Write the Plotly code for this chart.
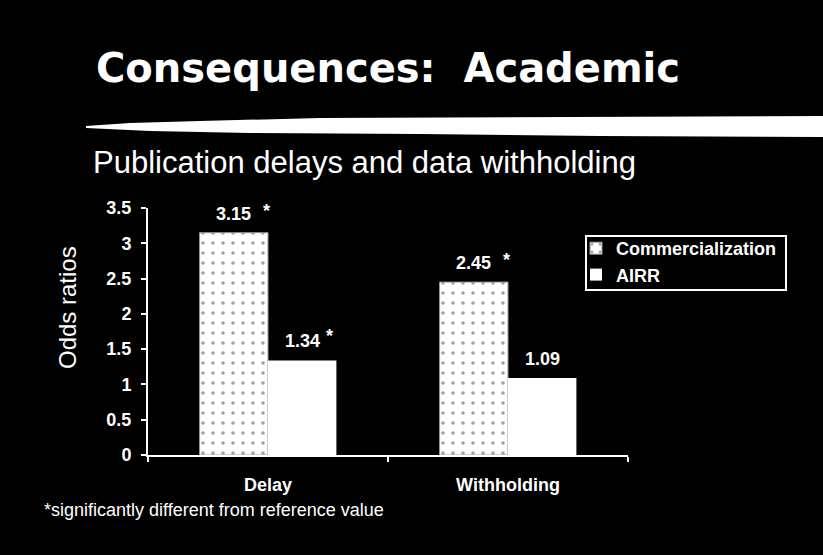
import plotly.graph_objects as go

categories = ["Delay", "Withholding"]
commercialization = [3.15, 2.45]
airr = [1.34, 1.09]
comm_sig = [True, True]
airr_sig = [True, False]
y_ticks = [0, 0.5, 1, 1.5, 2, 2.5, 3, 3.5]
y_tick_labels = ["0", "0.5", "1", "1.5", "2", "2.5", "3", "3.5"]

W, H = 823, 555
L, R, T, B = 148, 628, 208, 455
FONT = "Arial, Liberation Sans, sans-serif"


def px(x):
    return (x - L) / (R - L)


def py(y):
    return (B - y) / (B - T)


fig = go.Figure()
fig.add_trace(go.Bar(
    name="Commercialization", x=categories, y=commercialization,
    marker=dict(color="white",
                line=dict(color="#9a9a9a", width=1),
                pattern=dict(shape=".", fgcolor="#444444", bgcolor="white",
                             size=10, solidity=0.1)),
))
fig.add_trace(go.Bar(
    name="AIRR", x=categories, y=airr,
    marker=dict(color="white", line=dict(color="white", width=0)),
))

bar_w = 0.285
annos = []
for i, (v, s) in enumerate(zip(commercialization, comm_sig)):
    xc = i - bar_w / 2
    annos.append(dict(x=xc, y=v, xref="x", yref="y", text=f"{v:.2f}", showarrow=False,
                      yshift=19, font=dict(family=FONT, size=18, color="white", weight="bold")))
    if s:
        annos.append(dict(x=xc, y=v, xref="x", yref="y", text="*", showarrow=False,
                          xshift=33, yshift=22, font=dict(family=FONT, size=18, color="white", weight="bold")))
for i, (v, s) in enumerate(zip(airr, airr_sig)):
    xc = i + bar_w / 2
    annos.append(dict(x=xc, y=v, xref="x", yref="y", text=f"{v:.2f}", showarrow=False,
                      yshift=19, font=dict(family=FONT, size=18, color="white", weight="bold")))
    if s:
        annos.append(dict(x=xc, y=v, xref="x", yref="y", text="*", showarrow=False,
                          xshift=27, yshift=24, font=dict(family=FONT, size=18, color="white", weight="bold")))

# title, subtitle, axis title, footnote
annos.append(dict(x=px(94), y=py(68), xref="paper", yref="paper", xanchor="left", yanchor="middle",
                  text="Consequences:&nbsp;&nbsp;Academic", showarrow=False,
                  font=dict(family="DejaVu Sans, sans-serif", size=40, color="white", weight="bold")))
annos.append(dict(x=px(91), y=py(162), xref="paper", yref="paper", xanchor="left", yanchor="middle",
                  text="Publication delays and data withholding", showarrow=False,
                  font=dict(family=FONT, size=31, color="white")))
annos.append(dict(x=px(67), y=py(308), xref="paper", yref="paper", xanchor="center", yanchor="middle",
                  text="Odds ratios", textangle=-90, showarrow=False,
                  font=dict(family=FONT, size=24, color="white")))
annos.append(dict(x=px(42), y=py(510), xref="paper", yref="paper", xanchor="left", yanchor="middle",
                  text="*significantly different from reference value", showarrow=False,
                  font=dict(family=FONT, size=18, color="white")))

# brush stroke under title
pts = [(86, 126), (130, 123), (200, 121), (320, 118), (823, 116), (823, 137), (600, 136),
       (420, 134), (250, 133), (150, 131), (86, 128)]
path = "M " + " L ".join(f"{px(x):.5f},{py(y):.5f}" for x, y in pts) + " Z"

# legend frame
lx0, lx1, ly0, ly1 = 586, 786, 236, 290

fig.update_layout(
    width=W, height=H,
    margin=dict(l=L, r=W - R, t=T, b=H - B, pad=0),
    paper_bgcolor="black", plot_bgcolor="black",
    barmode="group", bargap=0.43, bargroupgap=0,
    showlegend=True,
    legend=dict(x=px(576), y=py(230), xanchor="left", yanchor="top",
                bgcolor="rgba(0,0,0,0)", borderwidth=0,
                font=dict(family=FONT, size=18, color="white", weight="bold"),
                itemwidth=30, tracegroupgap=0),
    annotations=annos,
    shapes=[
        dict(type="path", path=path, xref="paper", yref="paper",
             fillcolor="white", line=dict(width=0), layer="above"),
        dict(type="rect", xref="paper", yref="paper",
             x0=px(lx0), x1=px(lx1), y0=py(ly1), y1=py(ly0),
             line=dict(color="white", width=2), fillcolor="rgba(0,0,0,0)", layer="above"),
    ],
    font=dict(family=FONT, color="white"),
)
fig.update_xaxes(
    range=[-0.5, 1.5], showgrid=False, showline=True, linecolor="white", linewidth=2,
    ticks="outside", tickson="boundaries", ticklen=5, tickcolor="white", tickwidth=2,
    ticklabelstandoff=12,
    tickfont=dict(family=FONT, size=18, color="white", weight="bold"),
)
fig.update_yaxes(
    range=[0, 3.5], tickvals=y_ticks, ticktext=y_tick_labels,
    showgrid=False, showline=True, linecolor="white", linewidth=2, zeroline=False,
    ticks="outside", ticklen=5, tickcolor="white", tickwidth=2, ticklabelstandoff=6,
    tickfont=dict(family=FONT, size=18, color="white", weight="bold"),
)

fig.write_html(
    "out.html",
    config={"displayModeBar": False},
    post_script="document.body.style.margin='0';document.body.style.background='black';",
)
